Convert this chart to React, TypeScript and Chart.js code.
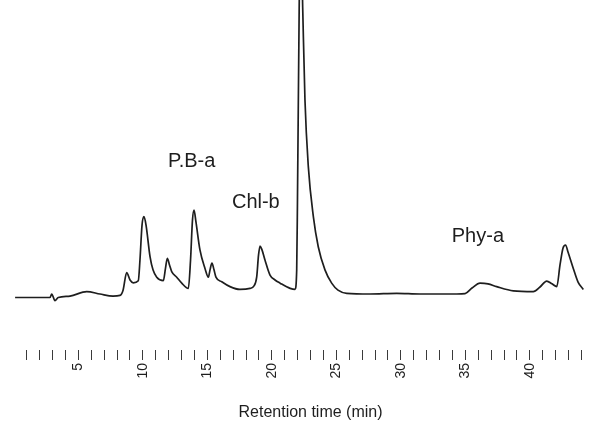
import React, { useEffect, useRef } from "react";
import { Chart, registerables } from "chart.js";

Chart.register(...registerables);

// Retention time (min) and detector signal (arbitrary units)
const retentionTime = [
  0.1, 2.81, 2.94, 3.19, 3.45, 4.36, 5.65, 6.68, 7.69, 8.23, 8.47, 8.75, 9.01, 9.26, 9.65, 9.78,
  9.94, 10.09, 10.25, 10.56, 10.79, 11.08, 11.59, 11.76, 11.9, 12.07, 12.24, 12.63, 13.02, 13.53,
  13.7, 13.85, 13.97, 14.12, 14.43, 14.82, 15.08, 15.21, 15.36, 15.52, 15.67, 16.12, 16.76, 17.53,
  18.31, 18.62, 18.83, 18.97, 19.09, 19.24, 19.47, 19.86, 20.25, 20.64, 21.42, 21.8, 21.93, 21.99,
  22.12, 22.22, 22.4, 22.57, 22.83, 23.22, 23.6, 24.12, 24.64, 25.13, 25.81, 27.61, 29.68, 31.49,
  34.33, 34.98, 35.52, 36.14, 36.76, 37.43, 38.72, 40.27, 40.79, 41.31, 41.72, 42.09, 42.34, 42.57,
  42.77, 42.96, 43.37, 43.74, 44.15,
];
const signal = [
  0, 0, 1.0, -0.9, 0, 0.4, 1.7, 1.0, 0.4, 0.6, 2.1, 7.1, 5.0, 4.2, 4.8, 10.7,
  20.7, 23.1, 20.7, 11.7, 7.9, 5.8, 4.8, 8.4, 11.2, 9.3, 7.4, 5.8, 4.1, 2.6,
  10.7, 22.1, 25.0, 21.6, 13.6, 8.3, 5.8, 7.9, 9.8, 7.9, 5.8, 4.5, 3.1, 2.3,
  2.6, 3.3, 5.9, 12.1, 14.7, 13.6, 10.7, 6.4, 5.0, 4.1, 2.6, 2.3, 7.9, 27.9,
  82, 110, 82, 56.4, 37.4, 23.1, 14.5, 7.9, 4.1, 2.1, 1.2, 1.0, 1.2, 1.0,
  1.0, 1.1, 2.7, 4.1, 3.9, 3.1, 1.9, 1.7, 3.0, 4.7, 3.9, 3.1, 9.3, 14.1,
  15.0, 13.0, 8.3, 4.4, 2.3,
];

// Axis ticks: a mark every minute, labels every 5 minutes
const tickMinutes = Array.from({ length: 44 }, (_, i) => i + 1);
const labeledMinutes = [5, 10, 15, 20, 25, 30, 35, 40];
const axisTitle = "Retention time (min)";

// Peak annotations: name with anchor (time, signal)
const peakNames = ["P.B-a", "Chl-b", "Phy-a"];
const peakLabelTime = [11.95, 16.91, 33.95];
const peakLabelSignal = [37.4, 25.5, 15.9];

const INK = "#1e1e1e";
const FONT = "'Liberation Sans', Arial, sans-serif";

const textPlugin = {
  id: "chromText",
  afterDraw(chart: any) {
    const { ctx, scales } = chart;
    const xs = scales.x;
    const ys = scales.y;
    ctx.save();
    ctx.fillStyle = INK;
    ctx.font = `20px ${FONT}`;
    ctx.textAlign = "left";
    ctx.textBaseline = "alphabetic";
    peakNames.forEach((name, i) => {
      ctx.fillText(name, xs.getPixelForValue(peakLabelTime[i]), ys.getPixelForValue(peakLabelSignal[i]));
    });
    ctx.font = `16px ${FONT}`;
    ctx.textAlign = "center";
    ctx.fillText(axisTitle, xs.getPixelForValue(23.0), xs.top + 67);
    ctx.restore();
  },
};

export default function App() {
  const ref = useRef<HTMLCanvasElement | null>(null);
  useEffect(() => {
    if (!ref.current) return;
    const chart = new Chart(ref.current, {
      type: "line",
      data: {
        datasets: [
          {
            data: retentionTime.map((t, i) => ({ x: t, y: signal[i] })),
            borderColor: INK,
            borderWidth: 1.7,
            pointRadius: 0,
            fill: false,
            cubicInterpolationMode: "monotone",
          },
        ],
      },
      options: {
        animation: false,
        responsive: false,
        events: [],
        layout: { padding: { left: 13.8, right: 5, top: 0, bottom: 57 } },
        plugins: { legend: { display: false }, tooltip: { enabled: false } },
        scales: {
          x: {
            type: "linear",
            min: 0,
            max: 44.2,
            afterBuildTicks(scale: any) {
              scale.ticks = tickMinutes.map((v) => ({ value: v }));
            },
            afterFit(scale: any) {
              scale.height = 30;
              scale.paddingLeft = 0;
              scale.paddingRight = 0;
              scale.paddingTop = 0;
              scale.paddingBottom = 0;
            },
            border: { display: false },
            grid: {
              display: true,
              drawOnChartArea: false,
              drawTicks: true,
              tickLength: 10,
              color: "#3a3a3a",
              lineWidth: 1,
            },
            ticks: {
              autoSkip: false,
              minRotation: 90,
              maxRotation: 90,
              padding: 3,
              color: INK,
              font: { family: FONT, size: 14 },
              callback: (v: any) => (labeledMinutes.includes(Number(v)) ? String(v) : ""),
            },
          },
          y: { display: false, min: -15, max: 85 },
        },
      },
      plugins: [textPlugin],
    });
    return () => chart.destroy();
  }, []);
  return (
    <div style={{ position: "absolute", left: 0, top: 0, width: 589, height: 437, background: "#fff" }}>
      <canvas ref={ref} width={589} height={437} />
    </div>
  );
}
